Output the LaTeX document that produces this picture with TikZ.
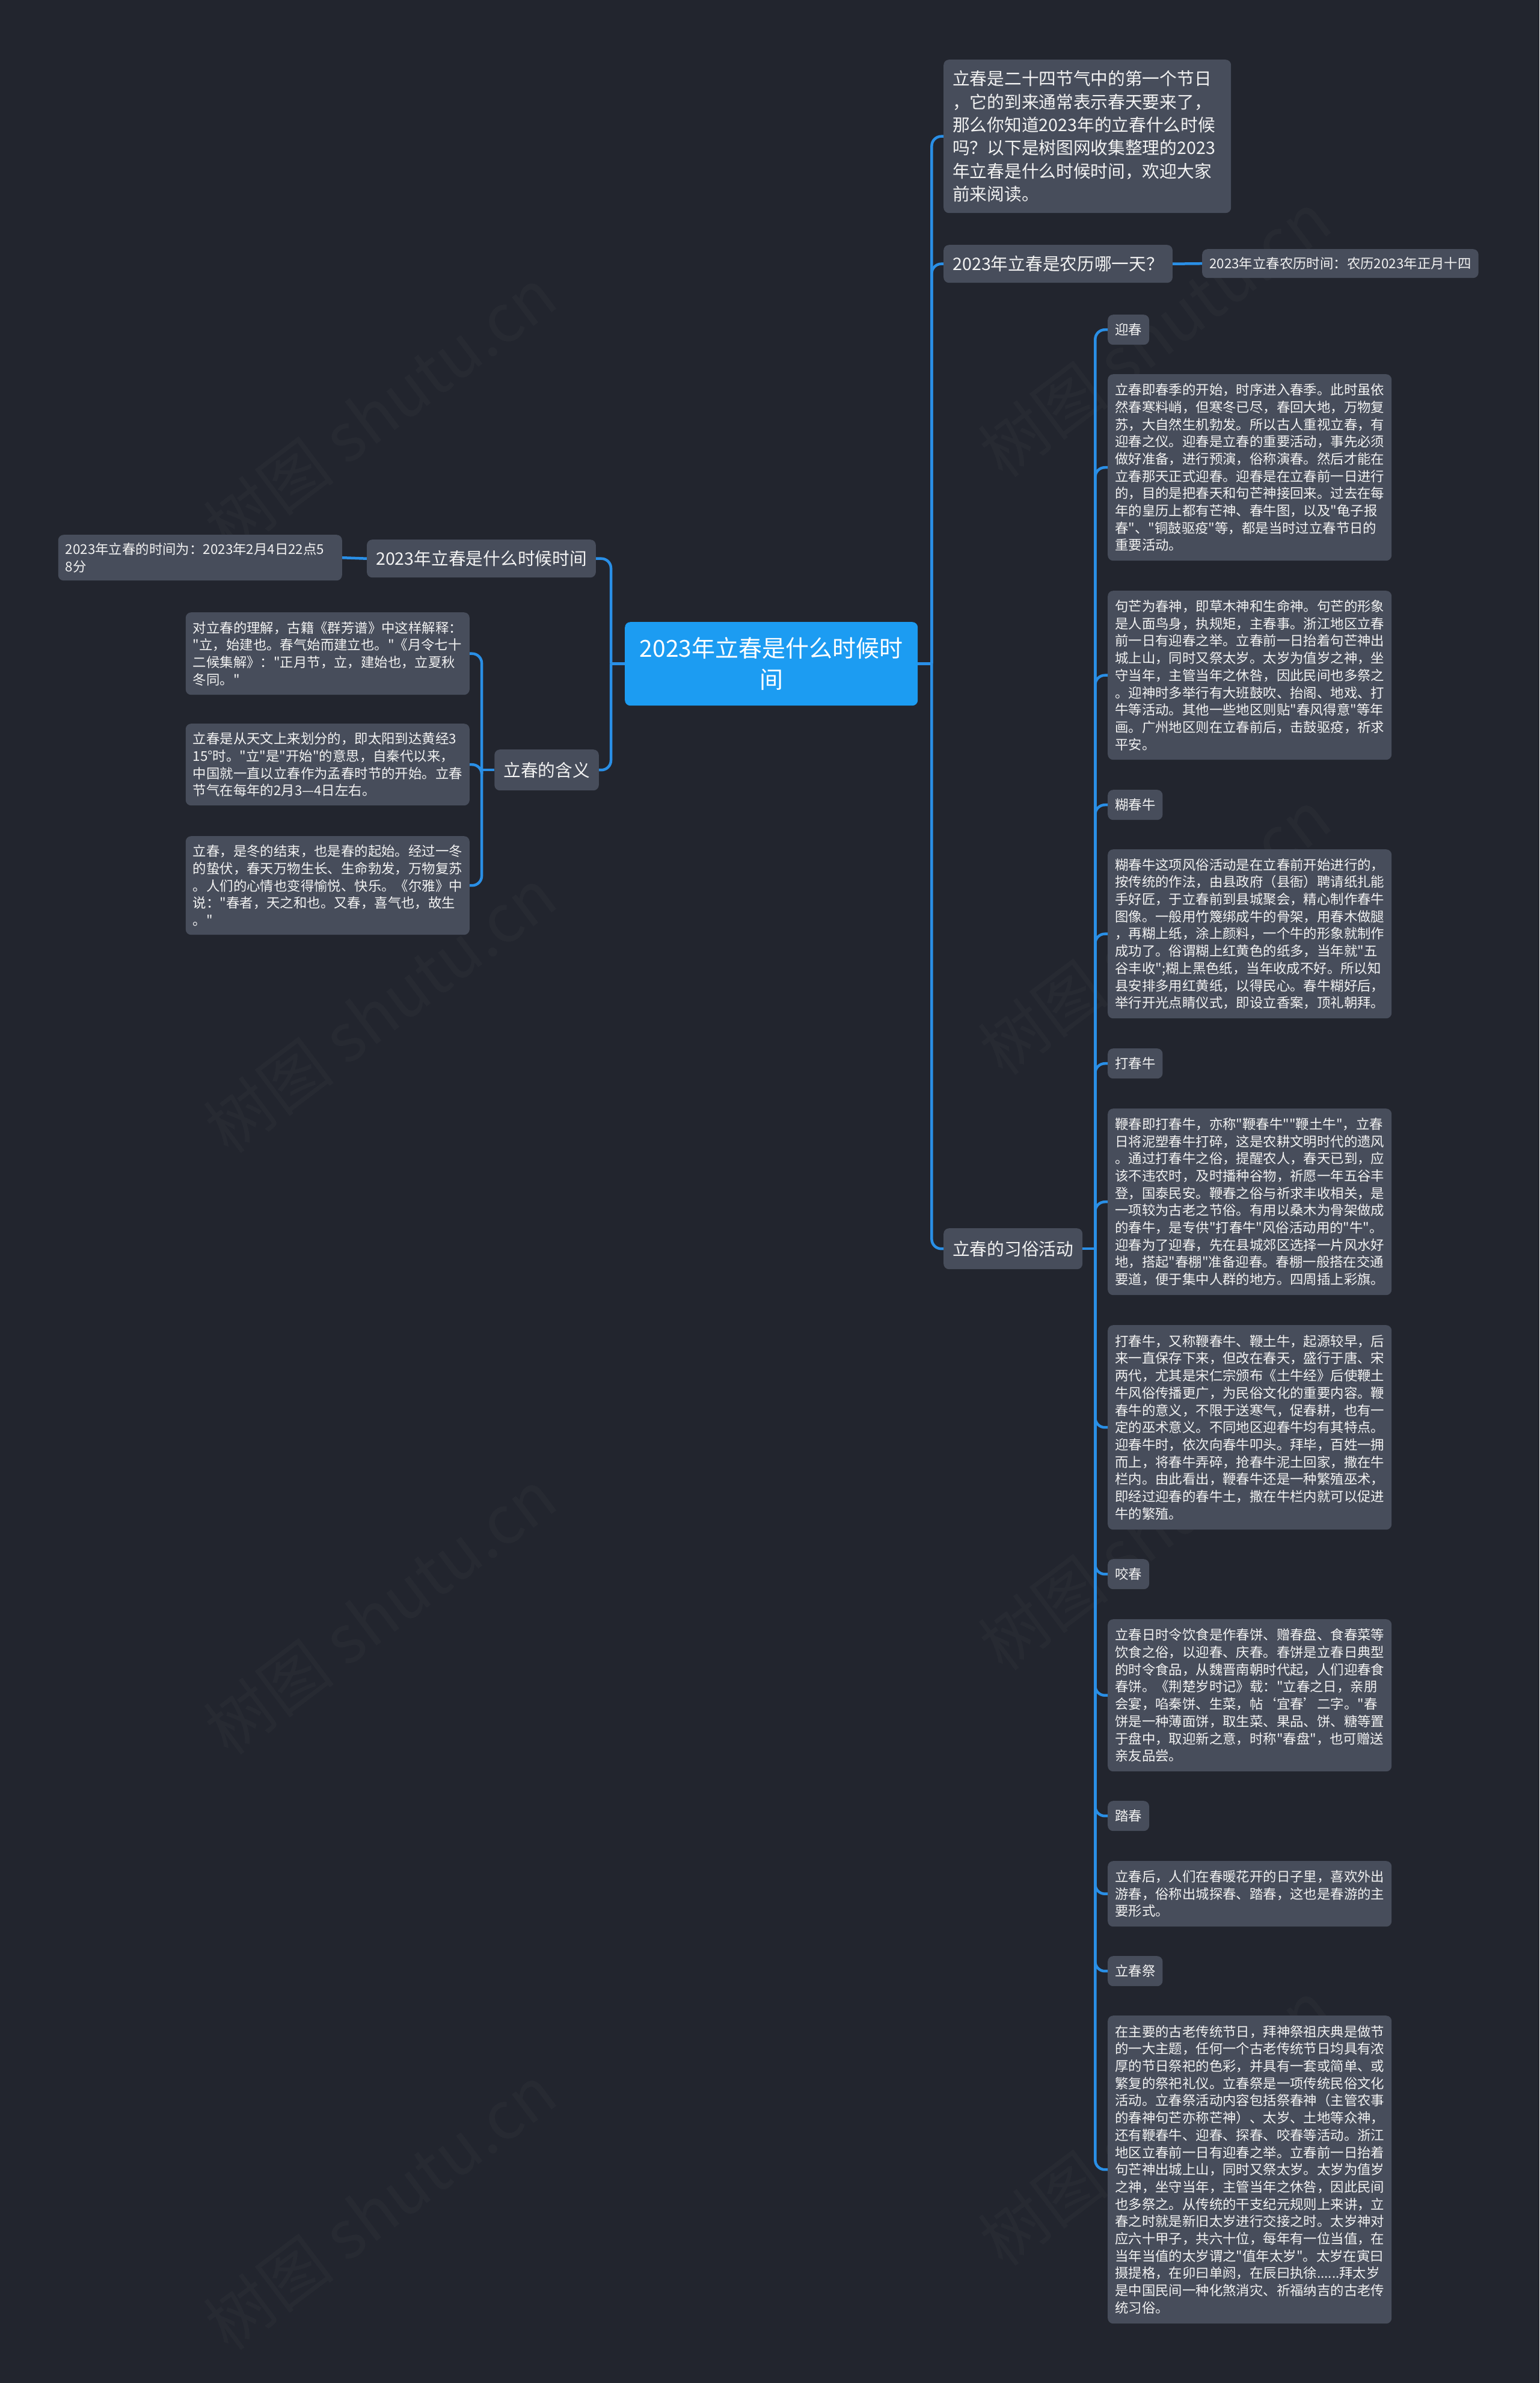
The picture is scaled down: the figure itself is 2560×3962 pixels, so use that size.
\documentclass[tikz,border=0pt]{standalone}
\usepackage{fontspec}
\newfontfamily\cjk{Noto Sans CJK SC}
\usetikzlibrary{calc}
\definecolor{bgc}{HTML}{22252E}
\definecolor{boxc}{HTML}{474D5B}
\definecolor{linec}{HTML}{2A8FE6}
\definecolor{ctrc}{HTML}{1C9CF2}
\definecolor{txtc}{HTML}{F2F2F2}
\newcommand{\fsmall}{\cjk\fontsize{22.4pt}{28.7pt}\selectfont}
\newcommand{\fmid}{\cjk\fontsize{28.7pt}{38.3pt}\selectfont}
\newcommand{\fbig}{\cjk\fontsize{39pt}{52pt}\selectfont}
\newcommand{\fwm}{\cjk\fontsize{110pt}{110pt}\selectfont}
\begin{document}
\begin{tikzpicture}[x=1pt,y=-1pt,
 base/.style={fill=boxc, text=txtc, rounded corners=9pt, anchor=north west, inner ysep=0pt},
 leaf/.style={base, font=\fsmall, text width=448pt, inner xsep=12pt, align=left},
 tag/.style={base, font=\fsmall, inner xsep=12pt, minimum height=50pt},
 lvl/.style={base, font=\fmid, inner xsep=15pt},
 ctr/.style={fill=ctrc, text=white, rounded corners=9pt, anchor=north west, font=\fbig, align=center, inner sep=0pt},
 conn/.style={draw=linec, line width=4.5pt, rounded corners=16pt},
 wm/.style={text=white, opacity=0.022, font=\fwm, rotate=37}
]
\useasboundingbox (0,0) rectangle (2560,3962);
\fill[bgc] (0,0) rectangle (2560,3962);

% watermarks
\node[wm] (w1) at (632,682) {树图 shutu.cn};
\node[wm] (w2) at (632,1680) {树图 shutu.cn};
\node[wm] (w3) at (632,2680) {树图 shutu.cn};
\node[wm] (w4) at (632,3670) {树图 shutu.cn};
\node[wm] (w5) at (1920,556) {树图 shutu.cn};
\node[wm] (w6) at (1920,1550) {树图 shutu.cn};
\node[wm] (w7) at (1920,2540) {树图 shutu.cn};
\node[wm] (w8) at (1920,3530) {树图 shutu.cn};

% center
\node[ctr, minimum width=487pt, minimum height=139pt] (c) at (1039,1034) {2023年立春是什么时候时\\间};

% right level 1
\node[lvl, text width=448pt, align=left, minimum height=255pt] (n1) at (1569,99)
 {立春是二十四节气中的第一个节日\\，它的到来通常表示春天要来了，\\那么你知道2023年的立春什么时候\\吗？以下是树图网收集整理的2023\\年立春是什么时候时间，欢迎大家\\前来阅读。};
\node[lvl, minimum height=63pt] (n2) at (1569,407) {2023年立春是农历哪一天？};
\node[tag, minimum height=48pt] (n2a) at (1999,414) {2023年立春农历时间：农历2023年正月十四};
\node[lvl, minimum height=68pt] (n3) at (1569,2042) {立春的习俗活动};

% left level 1
\node[lvl, anchor=north east, minimum height=63pt] (n4) at (991,897) {2023年立春是什么时候时间};
\node[leaf, anchor=north east, minimum height=76pt] (q0) at (569,889) {2023年立春的时间为：2023年2月4日22点5\\8分};
\node[lvl, anchor=north east, minimum height=68pt] (n5) at (996,1246) {立春的含义};
\node[leaf, anchor=north east, minimum height=137pt] (q1) at (781,1018)
 {对立春的理解，古籍《群芳谱》中这样解释：\\"立，始建也。春气始而建立也。"《月令七十\\二候集解》："正月节，立，建始也，立夏秋\\冬同。"};
\node[leaf, anchor=north east, minimum height=136pt] (q2) at (781,1203)
 {立春是从天文上来划分的，即太阳到达黄经3\\15°时。"立"是"开始"的意思，自秦代以来，\\中国就一直以立春作为孟春时节的开始。立春\\节气在每年的2月3—4日左右。};
\node[leaf, anchor=north east, minimum height=164pt] (q3) at (781,1390)
 {立春，是冬的结束，也是春的起始。经过一冬\\的蛰伏，春天万物生长、生命勃发，万物复苏\\。人们的心情也变得愉悦、快乐。《尔雅》中\\说："春者，天之和也。又春，喜气也，故生\\。"};

% customs column
\node[tag] (t1) at (1842,523) {迎春};
\node[leaf, minimum height=310pt] (p1) at (1842,622)
 {立春即春季的开始，时序进入春季。此时虽依\\然春寒料峭，但寒冬已尽，春回大地，万物复\\苏，大自然生机勃发。所以古人重视立春，有\\迎春之仪。迎春是立春的重要活动，事先必须\\做好准备，进行预演，俗称演春。然后才能在\\立春那天正式迎春。迎春是在立春前一日进行\\的，目的是把春天和句芒神接回来。过去在每\\年的皇历上都有芒神、春牛图，以及"龟子报\\春"、"铜鼓驱疫"等，都是当时过立春节日的\\重要活动。};
\node[leaf, minimum height=281pt] (p2) at (1842,982)
 {句芒为春神，即草木神和生命神。句芒的形象\\是人面鸟身，执规矩，主春事。浙江地区立春\\前一日有迎春之举。立春前一日抬着句芒神出\\城上山，同时又祭太岁。太岁为值岁之神，坐\\守当年，主管当年之休咎，因此民间也多祭之\\。迎神时多举行有大班鼓吹、抬阁、地戏、打\\牛等活动。其他一些地区则贴"春风得意"等年\\画。广州地区则在立春前后，击鼓驱疫，祈求\\平安。};
\node[tag] (t2) at (1842,1313) {糊春牛};
\node[leaf, minimum height=281pt] (p3) at (1842,1412)
 {糊春牛这项风俗活动是在立春前开始进行的，\\按传统的作法，由县政府（县衙）聘请纸扎能\\手好匠，于立春前到县城聚会，精心制作春牛\\图像。一般用竹篾绑成牛的骨架，用春木做腿\\，再糊上纸，涂上颜料，一个牛的形象就制作\\成功了。俗谓糊上红黄色的纸多，当年就"五\\谷丰收";糊上黑色纸，当年收成不好。所以知\\县安排多用红黄纸，以得民心。春牛糊好后，\\举行开光点睛仪式，即设立香案，顶礼朝拜。};
\node[tag] (t3) at (1842,1743) {打春牛};
\node[leaf, minimum height=310pt] (p4) at (1842,1843)
 {鞭春即打春牛，亦称"鞭春牛""鞭土牛"，立春\\日将泥塑春牛打碎，这是农耕文明时代的遗风\\。通过打春牛之俗，提醒农人，春天已到，应\\该不违农时，及时播种谷物，祈愿一年五谷丰\\登，国泰民安。鞭春之俗与祈求丰收相关，是\\一项较为古老之节俗。有用以桑木为骨架做成\\的春牛，是专供"打春牛"风俗活动用的"牛"。\\迎春为了迎春，先在县城郊区选择一片风水好\\地，搭起"春棚"准备迎春。春棚一般搭在交通\\要道，便于集中人群的地方。四周插上彩旗。};
\node[leaf, minimum height=340pt] (p5) at (1842,2203)
 {打春牛，又称鞭春牛、鞭土牛，起源较早，后\\来一直保存下来，但改在春天，盛行于唐、宋\\两代，尤其是宋仁宗颁布《土牛经》后使鞭土\\牛风俗传播更广，为民俗文化的重要内容。鞭\\春牛的意义，不限于送寒气，促春耕，也有一\\定的巫术意义。不同地区迎春牛均有其特点。\\迎春牛时，依次向春牛叩头。拜毕，百姓一拥\\而上，将春牛弄碎，抢春牛泥土回家，撒在牛\\栏内。由此看出，鞭春牛还是一种繁殖巫术，\\即经过迎春的春牛土，撒在牛栏内就可以促进\\牛的繁殖。};
\node[tag] (t4) at (1842,2592) {咬春};
\node[leaf, minimum height=253pt] (p6) at (1842,2692)
 {立春日时令饮食是作春饼、赠春盘、食春菜等\\饮食之俗，以迎春、庆春。春饼是立春日典型\\的时令食品，从魏晋南朝时代起，人们迎春食\\春饼。《荆楚岁时记》载："立春之日，亲朋\\会宴，啗秦饼、生菜，帖‘宜春’二字。"春\\饼是一种薄面饼，取生菜、果品、饼、糖等置\\于盘中，取迎新之意，时称"春盘"，也可赠送\\亲友品尝。};
\node[tag] (t5) at (1842,2994) {踏春};
\node[leaf, minimum height=109pt] (p7) at (1842,3094)
 {立春后，人们在春暖花开的日子里，喜欢外出\\游春，俗称出城探春、踏春，这也是春游的主\\要形式。};
\node[tag] (t6) at (1842,3252) {立春祭};
\node[leaf, minimum height=512pt] (p8) at (1842,3351)
 {在主要的古老传统节日，拜神祭祖庆典是做节\\的一大主题，任何一个古老传统节日均具有浓\\厚的节日祭祀的色彩，并具有一套或简单、或\\繁复的祭祀礼仪。立春祭是一项传统民俗文化\\活动。立春祭活动内容包括祭春神（主管农事\\的春神句芒亦称芒神）、太岁、土地等众神，\\还有鞭春牛、迎春、探春、咬春等活动。浙江\\地区立春前一日有迎春之举。立春前一日抬着\\句芒神出城上山，同时又祭太岁。太岁为值岁\\之神，坐守当年，主管当年之休咎，因此民间\\也多祭之。从传统的干支纪元规则上来讲，立\\春之时就是新旧太岁进行交接之时。太岁神对\\应六十甲子，共六十位，每年有一位当值，在\\当年当值的太岁谓之"值年太岁"。太岁在寅曰\\摄提格，在卯曰单阏，在辰曰执徐......拜太岁\\是中国民间一种化煞消灾、祈福纳吉的古老传\\统习俗。};

% connectors
\coordinate (rj) at ($(c.east)+(23,0)$);
\coordinate (lj) at ($(c.west)+(-23,0)$);
\coordinate (mj) at ($(n5.west)+(-21,0)$);
\coordinate (sj) at ($(n3.east)+(21,0)$);
\draw[conn] (c.east) -- (rj);
\draw[conn] (rj) |- (n1.west);
\draw[conn] (rj) |- (n2.west);
\draw[conn] (rj) |- (n3.west);
\draw[conn] (n2.east) -- (n2a.west);
\draw[conn] (c.west) -- (lj);
\draw[conn] (lj) |- (n4.east);
\draw[conn] (lj) |- (n5.east);
\draw[conn] (n4.west) -- (q0.east);
\draw[conn] (n5.west) -- (mj);
\draw[conn] (mj) |- (q1.east);
\draw[conn] (mj) |- (q2.east);
\draw[conn] (mj) |- (q3.east);
\draw[conn] (n3.east) -- (sj);
\foreach \k in {t1,p1,p2,t2,p3,t3,p4,p5,t4,p6,t5,p7,t6,p8}
  \draw[conn] (sj) |- (\k.west);
\end{tikzpicture}
\end{document}
